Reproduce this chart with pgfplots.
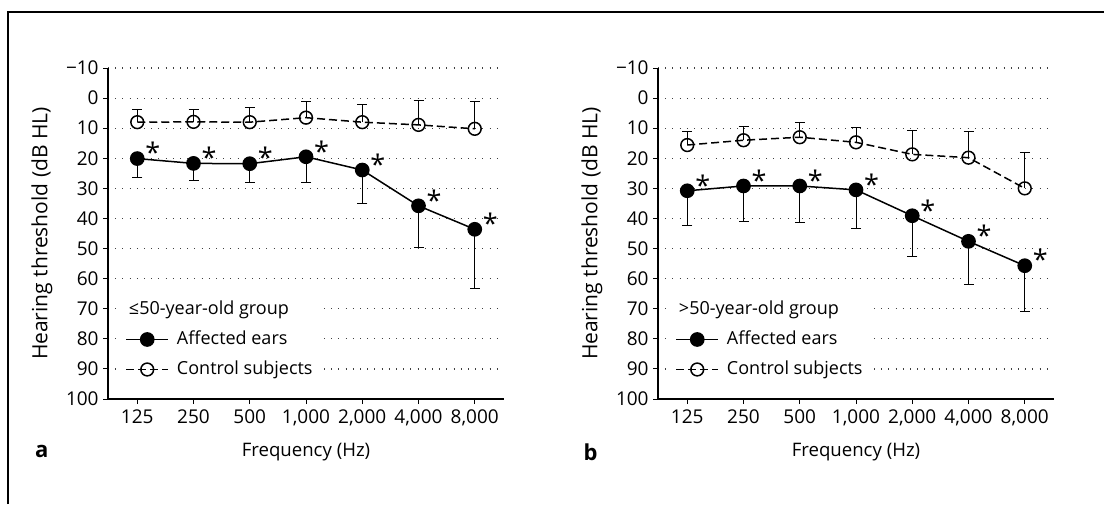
\documentclass[border=0pt]{standalone}
\usepackage{pgfplots}
\pgfplotsset{compat=1.18}
\usepackage{fontspec}
\setmainfont{Open Sans}

\newcommand{\lblfont}{\fontsize{9}{10}\selectfont}

\pgfplotsset{
  panel/.style={
    width=198pt, height=165.5pt, scale only axis, clip=false,
    xmin=-0.52, xmax=6.52, ymin=-10, ymax=100, y dir=reverse,
    axis x line*=bottom, axis y line*=left,
    axis line style={line width=0.6pt, -},
    xtick={0,...,6},
    xticklabels={125,250,500,{1,000},{2,000},{4,000},{8,000}},
    ytick={-10,0,...,100},
    yticklabels={−10,0,10,20,30,40,50,60,70,80,90,100},
    tick align=outside, major tick length=2.5pt,
    tick style={line width=0.5pt, black},
    tick label style={font=\fontsize{9.5}{10}\selectfont},
    xticklabel style={inner sep=2.5pt},
    yticklabel style={inner sep=2pt},
    ymajorgrids,
    major grid style={black!75, line width=0.6pt, dash pattern=on 0.5pt off 3.1pt},
    xlabel={Frequency (Hz)},
    xlabel style={font=\fontsize{9.3}{10}\selectfont, at={(axis description cs:0.5,-0.16)}, anchor=center},
    ylabel={Hearing threshold (dB HL)},
    ylabel style={font=\fontsize{10.5}{12}\selectfont, at={(axis description cs:-0.167,0.5)}, anchor=center},
    legend style={draw=none, fill=white, inner xsep=3pt, inner ysep=0pt,
      at={(0.028,0.317)}, anchor=north west, font=\lblfont,
      row sep=0pt, column sep=4pt,
      nodes={inner sep=0pt, text height=10pt, text depth=5pt}},
    legend cell align=left,
    legend image code/.code={\draw[mark repeat=2,mark phase=2,##1]
      plot coordinates {(0pt,0pt) (10.5pt,0pt) (21pt,0pt)};},
  },
  affected/.style={black, line width=0.75pt, mark=*, mark size=3.3pt,
    mark options={solid, fill=black},
    nodes near coords={*},
    every node near coord/.append style={font=\fontsize{13.5}{14}\selectfont,
      anchor=center, xshift=7.8pt, yshift=3pt, black},
    error bars/y dir=plus, error bars/y explicit,
    error bars/error bar style={line width=0.5pt, solid},
    error bars/error mark options={rotate=90, mark size=2.5pt, line width=0.5pt}},
  control/.style={black, line width=0.75pt, dash pattern=on 4pt off 2pt,
    mark=o, mark size=3.2pt, mark options={solid, fill=white},
    error bars/y dir=minus, error bars/y explicit,
    error bars/error bar style={line width=0.5pt, solid},
    error bars/error mark options={rotate=90, mark size=2.5pt, line width=0.5pt, solid}},
}

\begin{document}
\begin{tikzpicture}
\useasboundingbox (0pt,0pt) rectangle (552pt,-252pt);
\draw[line width=0.75pt] (4pt,-252pt) -- (4pt,-6pt) -- (552pt,-6pt);

% panel a
\begin{axis}[panel, at={(54pt,-199.5pt)}, anchor=south west]
\addlegendimage{empty legend}
\addlegendentry{\hspace*{-24pt}≤50-year-old group}
\addplot[affected] coordinates {
  (0,20.1) +- (0,6.4)
  (1,21.7) +- (0,5.7)
  (2,21.8) +- (0,6.2)
  (3,19.5) +- (0,8.4)
  (4,23.9) +- (0,11.1)
  (5,35.8) +- (0,14.0)
  (6,43.6) +- (0,19.7)
};
\addlegendentry{Affected ears}
\addplot[control] coordinates {
  (0,8.0) +- (0,4.2)
  (1,7.9) +- (0,4.1)
  (2,8.0) +- (0,5.0)
  (3,6.5) +- (0,5.4)
  (4,8.0) +- (0,5.9)
  (5,8.9) +- (0,8.1)
  (6,10.2) +- (0,9.1)
};
\addlegendentry{Control subjects}
\node[font=\fontsize{11}{12}\selectfont\bfseries] at (axis description cs:-0.167,-0.16) {a};
\end{axis}

% panel b
\begin{axis}[panel, at={(329pt,-199.5pt)}, anchor=south west]
\addlegendimage{empty legend}
\addlegendentry{\hspace*{-24pt}>50-year-old group}
\addplot[affected] coordinates {
  (0,30.8) +- (0,11.4)
  (1,29.2) +- (0,11.9)
  (2,29.2) +- (0,12.0)
  (3,30.5) +- (0,12.9)
  (4,39.1) +- (0,13.5)
  (5,47.6) +- (0,14.4)
  (6,55.7) +- (0,15.2)
};
\addlegendentry{Affected ears}
\addplot[control] coordinates {
  (0,15.6) +- (0,4.5)
  (1,14.0) +- (0,4.7)
  (2,13.0) +- (0,4.8)
  (3,14.7) +- (0,5.0)
  (4,18.7) +- (0,7.8)
  (5,19.8) +- (0,8.7)
  (6,30.0) +- (0,12.0)
};
\addlegendentry{Control subjects}
\node[font=\fontsize{11}{12}\selectfont\bfseries] at (axis description cs:-0.17,-0.16) {b};
\end{axis}
\end{tikzpicture}
\end{document}
